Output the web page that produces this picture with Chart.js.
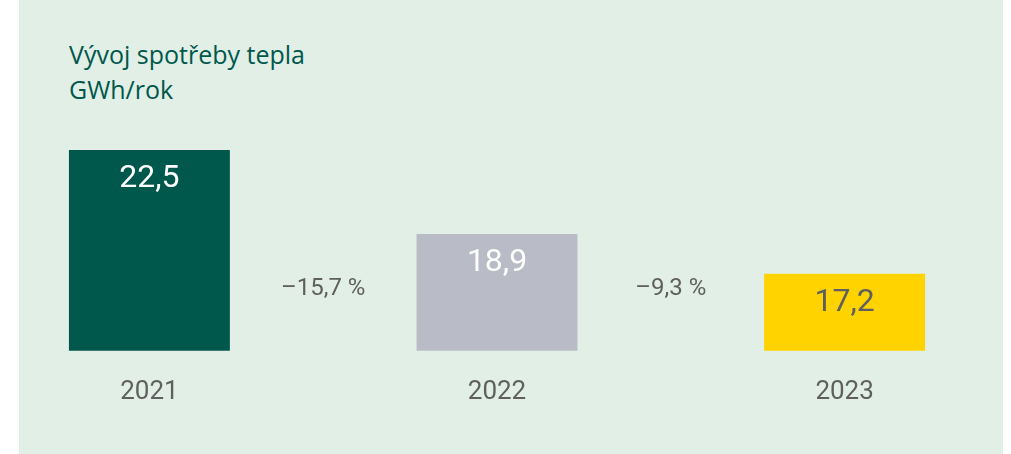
<!DOCTYPE html>
<html>
<head>
<meta charset="utf-8">
<script src="https://cdn.jsdelivr.net/npm/chart.js@4/dist/chart.umd.min.js"></script>
<style>
  html, body { margin: 0; padding: 0; background: #fff; }
  #panel {
    position: absolute; left: 19px; top: 0;
    width: 984px; height: 454px;
    background: #e2efe6;
  }
  #title {
    position: absolute; left: 50px; top: 37px;
    font-family: "Open Sans", Roboto, sans-serif;
    font-size: 25px; line-height: 35px;
    color: #00574b;
  }
  #barChart { position: absolute; left: 0; top: 0; }
</style>
</head>
<body>
<div id="panel">
  <div id="title">Vývoj spotřeby tepla<br>GWh/rok</div>
  <canvas id="barChart" width="984" height="454"></canvas>
</div>
<script>
// slots: year, gap, year, gap, year
var years = ["2021", "", "2022", "", "2023"];
var values = [22.5, null, 18.9, null, 17.2];
var changes = [null, "–15,7 %", null, "–9,3 %", null];
var barColors = ["#00574b", null, "#b9bcc7", null, "#ffd300"];
var valueColors = ["#ffffff", null, "#ffffff", null, "#5f5f5f"];

var fontFamily = "Roboto, 'Noto Sans', sans-serif";
var grayText = "#5f5f5f";

var labelPlugin = {
  id: "labels",
  afterDatasetsDraw: function (chart) {
    var ctx = chart.ctx;
    var meta = chart.getDatasetMeta(0);
    var xScale = chart.scales.x;
    ctx.save();
    ctx.textAlign = "center";
    ctx.textBaseline = "middle";

    // values inside bars
    ctx.font = "32px " + fontFamily;
    meta.data.forEach(function (bar, i) {
      if (values[i] == null) return;
      ctx.fillStyle = valueColors[i];
      ctx.fillText(String(values[i]).replace(".", ","), bar.x, bar.y + 29);
    });

    // change between bars
    ctx.font = "24px " + fontFamily;
    ctx.fillStyle = grayText;
    changes.forEach(function (txt, i) {
      if (!txt) return;
      ctx.fillText(txt, xScale.getPixelForValue(i), chart.chartArea.bottom - 62);
    });
    ctx.restore();
  },
};

var ctx = document.getElementById("barChart").getContext("2d");
var myChart = new Chart(ctx, {
  type: "bar",
  data: {
    labels: years,
    datasets: [
      {
        data: values,
        backgroundColor: barColors,
        borderWidth: 0,
        barPercentage: 0.926,
        categoryPercentage: 1,
      },
    ],
  },
  options: {
    responsive: false,
    animation: false,
    layout: {
      padding: { left: 43.5, right: 71.5, top: 130, bottom: 20 },
    },
    plugins: {
      legend: { display: false },
      tooltip: { enabled: false },
    },
    scales: {
      x: {
        grid: { display: false, drawTicks: false },
        border: { display: false },
        ticks: {
          color: grayText,
          padding: 26,
          font: { family: fontFamily, size: 26 },
        },
      },
      y: {
        display: false,
        min: 13.9,
        max: 23.36,
      },
    },
  },
  plugins: [labelPlugin],
});
</script>
</body>
</html>
